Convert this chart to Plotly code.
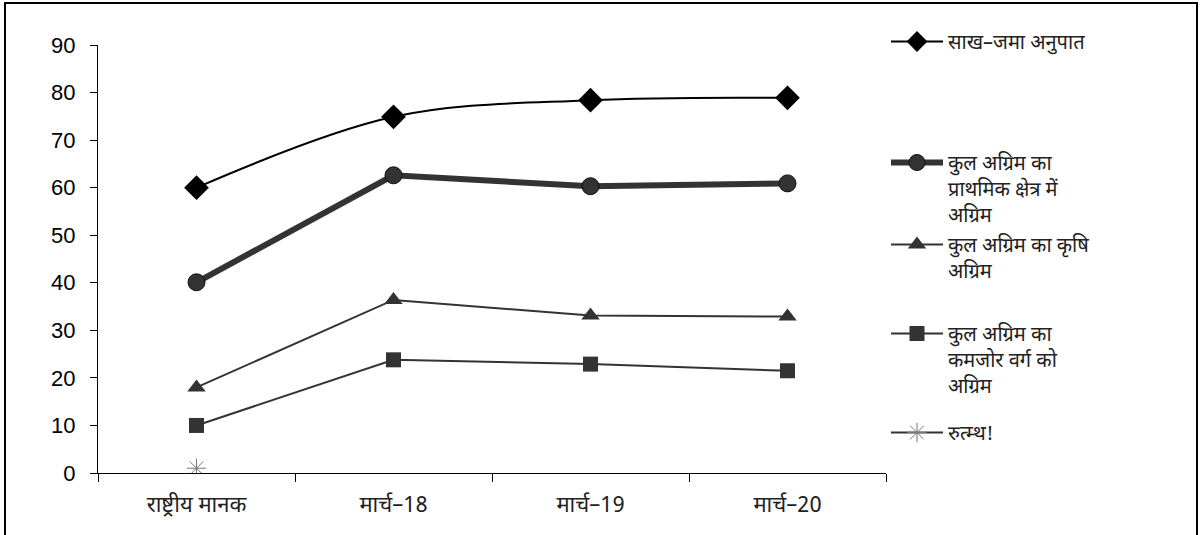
import plotly.graph_objects as go

categories = ["राष्ट्रीय मानक", "मार्च–18", "मार्च–19", "मार्च–20"]

credit_deposit = [60.0, 74.9, 78.4, 78.9]
priority_sector = [40.1, 62.6, 60.3, 60.9]
agriculture = [18.0, 36.4, 33.1, 32.9]
weaker_section = [10.0, 23.8, 22.9, 21.5]
misc_series = [1.0, None, None, None]

names = [
    "साख–जमा अनुपात",
    "कुल अग्रिम का<br>प्राथमिक क्षेत्र में<br>अग्रिम",
    "कुल अग्रिम का कृषि<br>अग्रिम",
    "कुल अग्रिम का<br>कमजोर वर्ग को<br>अग्रिम",
    "रुत्म्थ!",
]

W, H = 1203, 535
L, R, T, B = 98, 886, 45, 473
PW, PH = R - L, B - T

def px_x(x):
    return (x - L) / PW

def px_y(y):
    return (B - y) / PH

hindi_font = "Noto Sans Devanagari, Noto Sans, DejaVu Sans, sans-serif"

fig = go.Figure()

fig.add_trace(go.Scatter(
    x=categories, y=credit_deposit, name=names[0], legend="legend",
    mode="lines+markers", line=dict(color="#000000", width=2, shape="spline", smoothing=1.0),
    marker=dict(symbol="diamond", size=19, color="#000000"),
))
fig.add_trace(go.Scatter(
    x=categories, y=priority_sector, name=names[1], legend="legend2",
    mode="lines+markers", line=dict(color="#333333", width=6),
    marker=dict(symbol="circle", size=17, color="#333333", line=dict(color="#111111", width=1)),
))
fig.add_trace(go.Scatter(
    x=categories, y=agriculture, name=names[2], legend="legend3",
    mode="lines+markers", line=dict(color="#333333", width=2),
    marker=dict(symbol="triangle-up", size=16, color="#333333"),
))
fig.add_trace(go.Scatter(
    x=categories, y=weaker_section, name=names[3], legend="legend4",
    mode="lines+markers", line=dict(color="#333333", width=2),
    marker=dict(symbol="square", size=15, color="#333333"),
))
fig.add_trace(go.Scatter(
    x=categories, y=misc_series, name=names[4], legend="legend5",
    mode="lines+markers", line=dict(color="#333333", width=2),
    marker=dict(symbol="asterisk-open", size=16, color="#777777", line=dict(color="#777777", width=1)),
))

legend_tops = [22, 143, 225, 314, 413]
legend_common = dict(
    xref="paper", yref="paper", xanchor="left", yanchor="top",
    bgcolor="rgba(0,0,0,0)", valign="top", itemwidth=52, itemsizing="trace",
    font=dict(family=hindi_font, size=20, color="#222222"),
)
layout_legends = {}
for i, top in enumerate(legend_tops):
    key = "legend" if i == 0 else f"legend{i + 1}"
    layout_legends[key] = dict(x=px_x(886), y=px_y(top), **legend_common)

fig.update_layout(
    width=W, height=H,
    margin=dict(l=L, r=W - R, t=T, b=H - B),
    paper_bgcolor="white", plot_bgcolor="white",
    showlegend=True,
    **layout_legends,
    xaxis=dict(
        type="category", range=[-0.5, 3.5],
        showgrid=False, zeroline=False,
        showline=True, linecolor="#000000", linewidth=1,
        ticks="outside", ticklen=8, tickcolor="#000000", tickson="boundaries",
        ticklabelstandoff=12,
        tickfont=dict(family=hindi_font, size=22, color="#222222"),
    ),
    yaxis=dict(
        range=[0, 90], dtick=10,
        showgrid=False, zeroline=False,
        showline=True, linecolor="#000000", linewidth=1,
        ticks="outside", ticklen=7, tickcolor="#000000",
        ticklabelstandoff=10,
        tickfont=dict(family="Liberation Sans, Arial, sans-serif", size=22, color="#000000"),
    ),
    shapes=[
        dict(type="rect", xref="paper", yref="paper",
             x0=px_x(5), x1=px_x(1197), y0=px_y(545), y1=px_y(3),
             line=dict(color="#000000", width=2), fillcolor="rgba(0,0,0,0)", layer="below"),
    ],
)

fig.write_html("out.html")
